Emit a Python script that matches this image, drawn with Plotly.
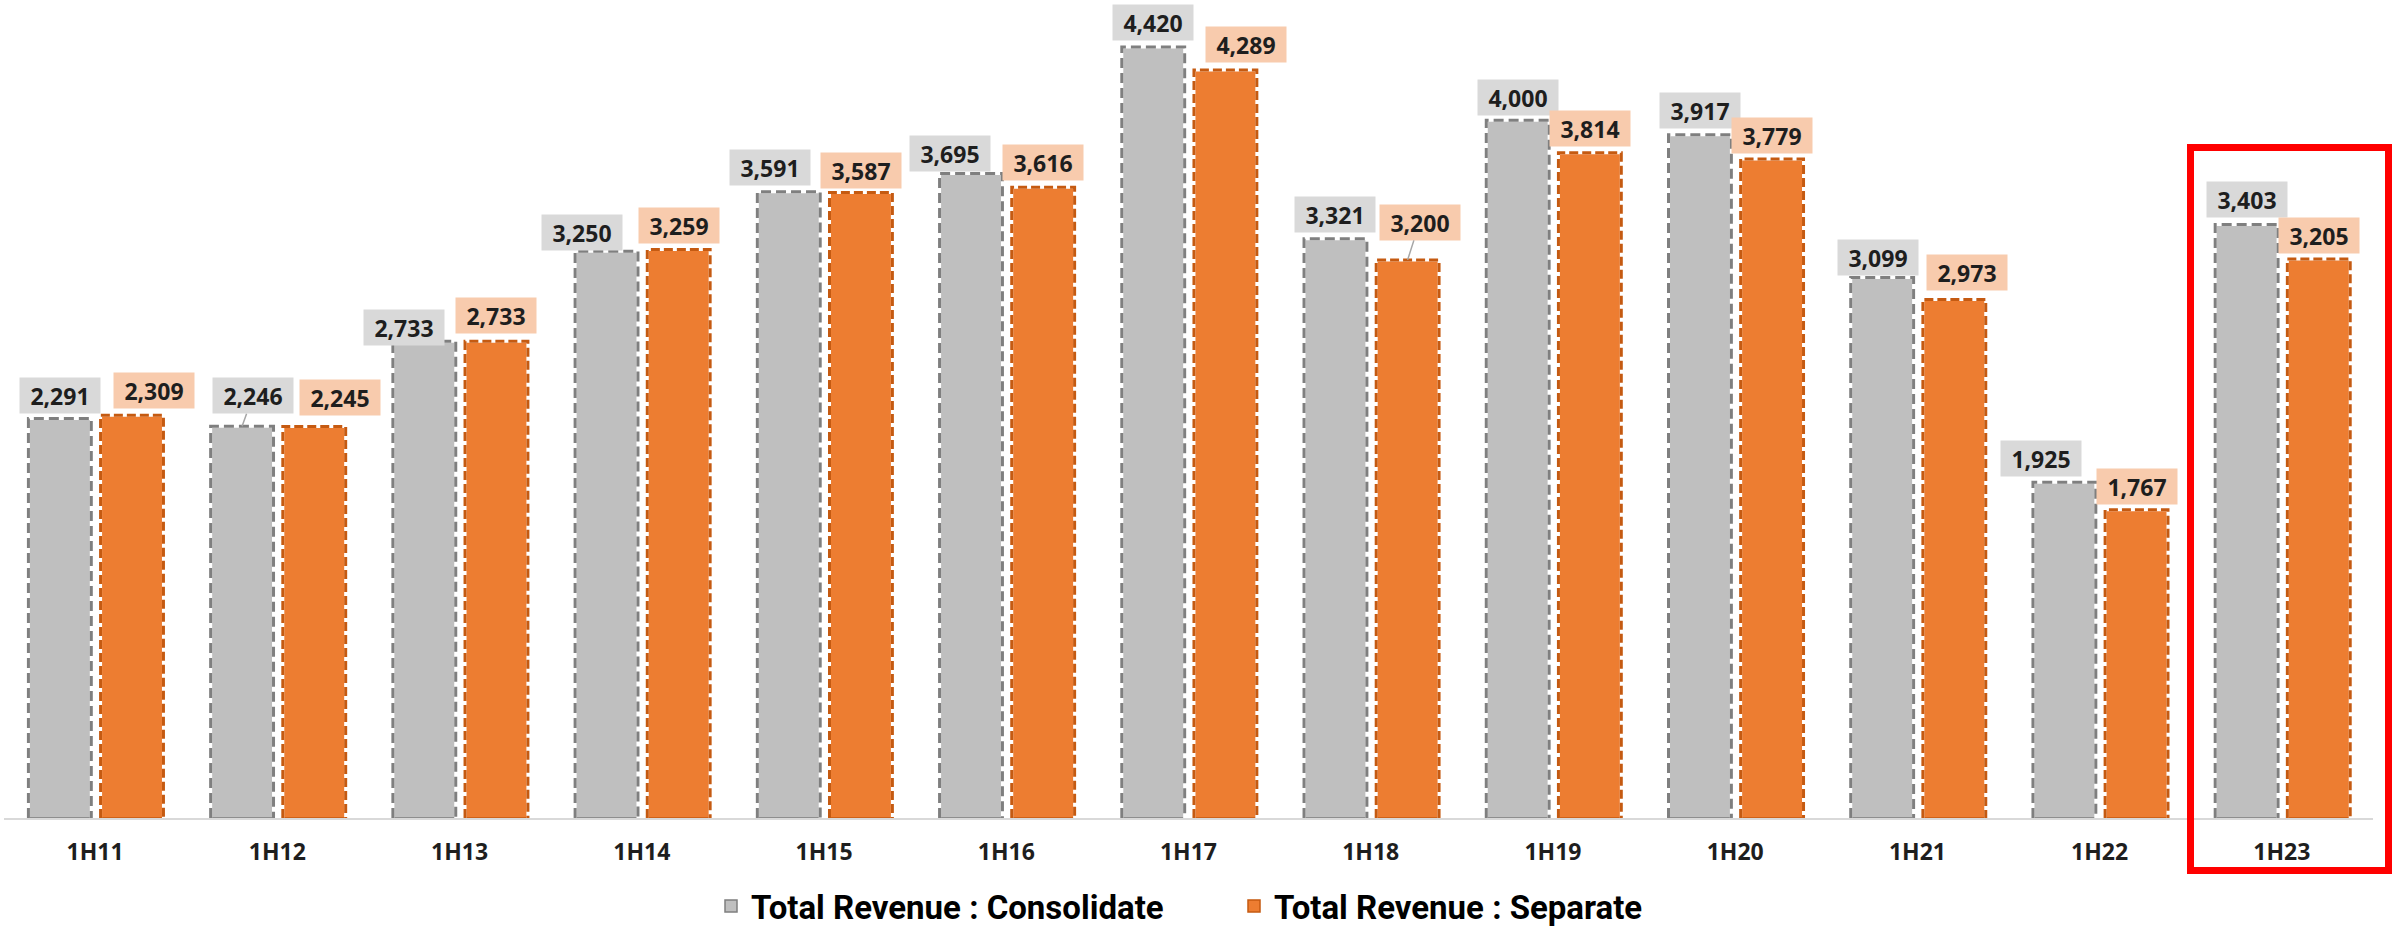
import plotly.graph_objects as go

# ---- data ----
categories = ["1H11", "1H12", "1H13", "1H14", "1H15", "1H16", "1H17",
              "1H18", "1H19", "1H20", "1H21", "1H22", "1H23"]
consolidate = [2291, 2246, 2733, 3250, 3591, 3695, 4420, 3321, 4000, 3917, 3099, 1925, 3403]
separate = [2309, 2245, 2733, 3259, 3587, 3616, 4289, 3200, 3814, 3779, 2973, 1767, 3205]
series_names = ["Total Revenue : Consolidate", "Total Revenue : Separate"]

# ---- label nudges (pixels) to mimic the reference's label placement ----
grey_dx = [0, 11, -20, -25, -19, -21, 0, 0, 0, 0, -4, -23, 0]
grey_gap = [5, 13, -4, 1, 7, 3, 7, 7, 5, 7, 2, 6, 7]
orange_dx = [22, 26, 0, 0, 0, 0, 21, 12, 0, 0, 13, 0, 0]
orange_gap = [7, 11, 8, 7, 4, 7, 8, 20, 7, 6, 9, 6, 6]
grey_leader = [1]
orange_leader = [7]

# ---- style ----
W, H = 2394, 935
ML, MR, MT, MB = 4, 21, 0, 117
BAR_W = 0.345
OFF = [-0.366, 0.03]
FILL = ["#bfbfbf", "#ed7d31"]
EDGE = ["#7f7f7f", "#c55a11"]
DASH = ["10px,5px", "9px,4px"]
LABEL_BG = ["#d9d9d9", "#f8cbad"]
FONT = "Open Sans, Noto Sans, sans-serif"
TXT = "#1e1e1e"

xs = list(range(len(categories)))
fig = go.Figure()

for k, vals in enumerate([consolidate, separate]):
    fig.add_trace(go.Bar(
        x=xs, y=vals, name=series_names[k], width=BAR_W, offset=OFF[k],
        marker=dict(color=FILL[k], line=dict(width=1.5, color=EDGE[k])),
        hoverinfo="skip",
    ))

# dashed outlines (white underlay so dash gaps look white)
for k, vals in enumerate([consolidate, separate]):
    ox, oy = [], []
    for i, v in zip(xs, vals):
        x0 = i + OFF[k]
        x1 = x0 + BAR_W
        ox += [x0, x0, x1, x1, None]
        oy += [0, v, v, 0, None]
    fig.add_trace(go.Scatter(x=ox, y=oy, mode="lines", showlegend=False,
                             line=dict(color="white", width=3), hoverinfo="skip"))
    fig.add_trace(go.Scatter(x=ox, y=oy, mode="lines", showlegend=False,
                             line=dict(color=EDGE[k], width=3, dash=DASH[k]),
                             hoverinfo="skip"))

annotations = []
for k, (vals, dxs, gaps, leaders) in enumerate([
        (consolidate, grey_dx, grey_gap, grey_leader),
        (separate, orange_dx, orange_gap, orange_leader)]):
    for i, v in zip(xs, vals):
        annotations.append(dict(
            x=i + OFF[k] + BAR_W / 2, y=v, xref="x", yref="y",
            text=f"{v:,}", showarrow=True,
            ax=dxs[i], ay=-(gaps[i] + 17.5), axref="pixel", ayref="pixel",
            arrowhead=0, arrowwidth=1.5, standoff=0, startstandoff=0,
            arrowcolor="#a6a6a6" if i in leaders else "rgba(0,0,0,0)",
            bgcolor=LABEL_BG[k], width=80, height=35, borderpad=0,
            font=dict(family=FONT, size=23, color=TXT, weight="bold"),
        ))

plot_w = W - ML - MR
plot_h = H - MT - MB


def px_x(px):
    return (px - ML) / plot_w


def px_y(py):
    return (H - MB - py) / plot_h


fig.update_layout(
    width=W, height=H,
    margin=dict(l=ML, r=MR, t=MT, b=MB, autoexpand=False),
    paper_bgcolor="white", plot_bgcolor="white",
    barmode="overlay",
    showlegend=True,
    legend=dict(orientation="h", x=px_x(711), xanchor="left",
                y=px_y(934), yanchor="bottom",
                font=dict(family="Roboto, sans-serif",
                          size=33, color="#000000", weight="bold"),
                itemwidth=30, entrywidth=478, tracegroupgap=0),
    annotations=annotations,
    shapes=[dict(type="rect", xref="paper", yref="paper",
                 x0=px_x(2190.5), x1=px_x(2388.5), y0=px_y(870.5), y1=px_y(147.5),
                 line=dict(color="#ff0000", width=7), fillcolor="rgba(0,0,0,0)",
                 layer="above")],
    xaxis=dict(range=[-0.5, len(categories) - 0.5], tickmode="array",
               tickvals=xs, ticktext=categories, showgrid=False, zeroline=False,
               showline=True, linecolor="#d9d9d9", linewidth=2, ticks="",
               ticklabelstandoff=12,
               tickfont=dict(family=FONT, size=23, color=TXT, weight="bold")),
    yaxis=dict(range=[0, 4690], visible=False, showgrid=False, zeroline=False),
)

fig.write_html("out.html", config={"displayModeBar": False},
               post_script="document.body.style.margin='0';document.body.style.overflow='hidden';")
